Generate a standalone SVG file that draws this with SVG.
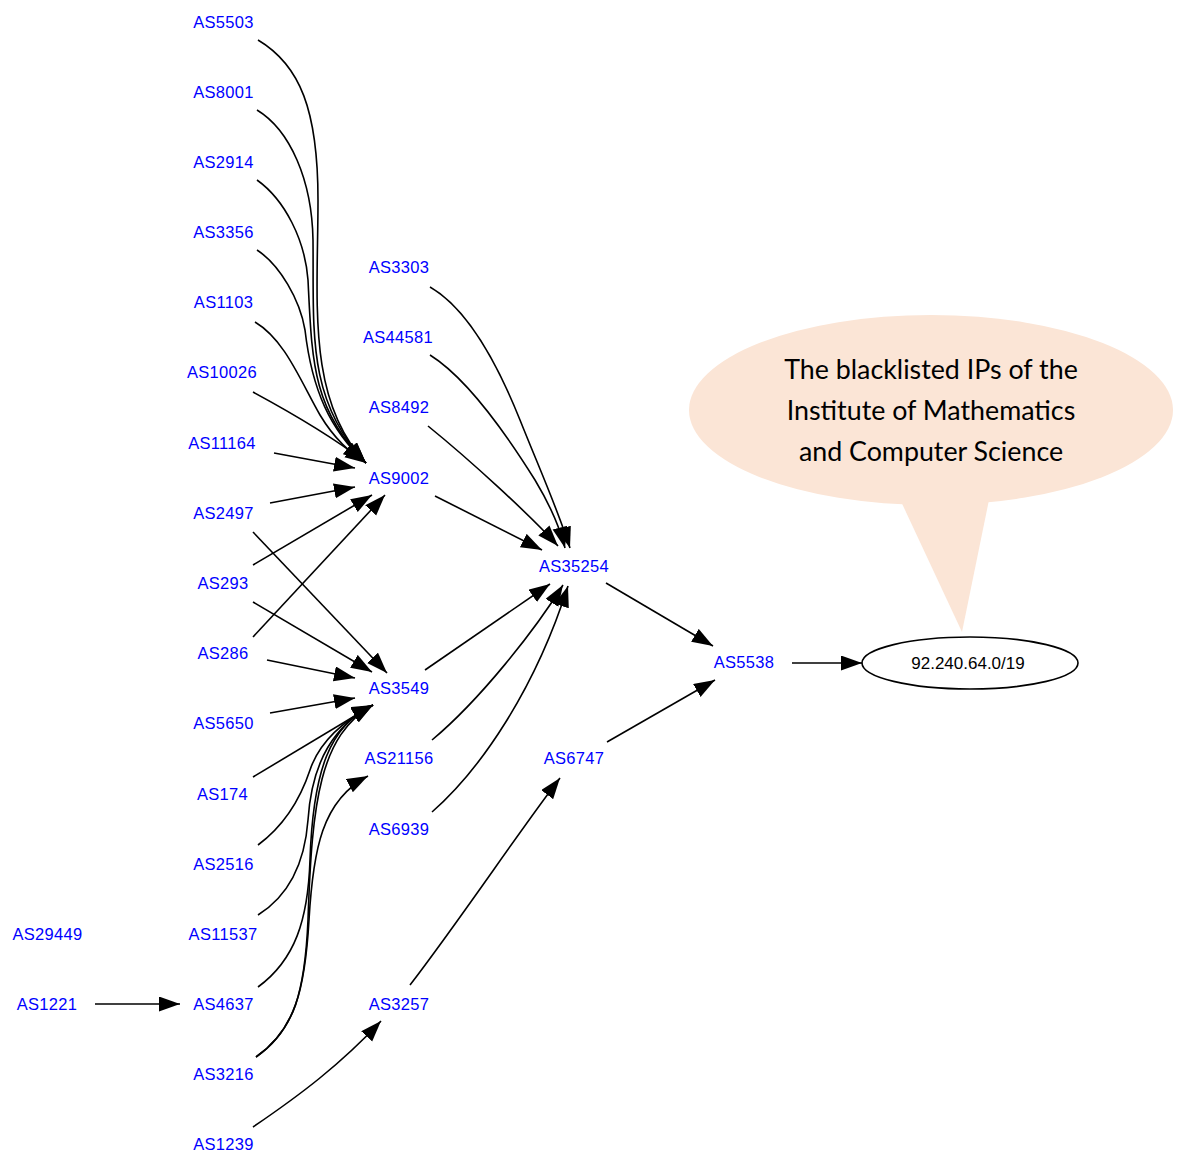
<svg xmlns="http://www.w3.org/2000/svg" width="1182" height="1155" viewBox="0 0 1182 1155">
  <defs>
    <style>
      .lbl { font-family: "Liberation Sans", Arial, sans-serif; font-size: 16.5px; fill: #0000ff; text-anchor: middle; letter-spacing: 0.3px; }
      .pfx { font-family: "Liberation Sans", Arial, sans-serif; font-size: 17px; fill: #000000; text-anchor: middle; }
      .edge { fill: none; stroke: #000000; stroke-width: 1.6; marker-end: url(#arrow); }
      .note { font-family: Lato, "Open Sans", sans-serif; font-size: 26.8px; fill: #000000; text-anchor: middle; }
    </style>
    <marker id="arrow" markerUnits="userSpaceOnUse" markerWidth="24" markerHeight="16" refX="21" refY="7.5" orient="auto">
      <path d="M0,0 L21,7.5 L0,15 z" fill="#000000"/>
    </marker>
  </defs>
  <rect width="1182" height="1155" fill="#ffffff"/>

  <!-- callout bubble -->
  <g id="callout">
    <ellipse cx="931" cy="410" rx="242" ry="95" fill="#fbe5d6"/>
    <polygon points="898,495 990,495 962,632" fill="#fbe5d6"/>
    <text class="note" x="931" y="379">The blacklisted IPs of the</text>
    <text class="note" x="931" y="420">Institute of Mathematics</text>
    <text class="note" x="931" y="461">and Computer Science</text>
  </g>

  <!-- connectors -->
  <g id="edges">
    <!-- into AS9002 -->
    <path class="edge" d="M258,40 C300,65 318,110 318,200 C318,300 306,400 366,463"/>
    <path class="edge" d="M257,110 C290,130 312,180 313,240 C314,330 306,400 366,463"/>
    <path class="edge" d="M257,180 C285,200 305,240 308,280 C312,360 312,410 366,463"/>
    <path class="edge" d="M257,250 C280,265 300,300 305,330 C312,390 330,430 366,463"/>
    <path class="edge" d="M255,322 C285,340 300,380 320,415 C335,440 350,452 366,463"/>
    <path class="edge" d="M253,392 C290,412 330,435 364,461"/>
    <path class="edge" d="M274,453 L355,468"/>
    <path class="edge" d="M270,503 L355,487"/>
    <path class="edge" d="M253,565 L372,495"/>
    <path class="edge" d="M253,637 L385,495"/>
    <!-- into AS3549 -->
    <path class="edge" d="M253,532 L387,673"/>
    <path class="edge" d="M253,602 L372,672"/>
    <path class="edge" d="M267,660 L355,678"/>
    <path class="edge" d="M270,713 L355,698"/>
    <path class="edge" d="M253,777 L373,705"/>
    <path class="edge" d="M258,845 C285,825 300,800 310,770 C320,740 345,720 373,705"/>
    <path class="edge" d="M258,915 C290,895 305,860 308,820 C312,760 335,725 373,705"/>
    <path class="edge" d="M258,987 C295,960 308,920 310,860 C313,770 330,725 373,705"/>
    <path class="edge" d="M256,1057 C295,1030 305,990 308,920 C312,800 320,735 373,705"/>
    <!-- into AS21156 -->
    <path class="edge" d="M256,1057 C295,1030 305,990 309,920 C313,850 322,800 368,776"/>
    <!-- into AS4637 -->
    <path class="edge" d="M95,1004 L180,1004"/>
    <!-- into AS35254 -->
    <path class="edge" d="M430,287 C470,310 500,370 520,420 C540,470 558,510 570,548"/>
    <path class="edge" d="M430,355 C470,380 510,440 535,480 C550,505 560,528 565,548"/>
    <path class="edge" d="M428,426 C470,460 530,515 558,546"/>
    <path class="edge" d="M435,496 L542,550"/>
    <path class="edge" d="M425,670 L550,584"/>
    <path class="edge" d="M432,740 C480,700 535,630 563,585"/>
    <path class="edge" d="M432,812 C480,770 535,690 568,586"/>
    <!-- into AS3257, AS6747, AS5538 and the prefix -->
    <path class="edge" d="M253,1127 C300,1095 340,1065 381,1021"/>
    <path class="edge" d="M410,985 C460,920 520,830 560,778"/>
    <path class="edge" d="M606,583 L713,646"/>
    <path class="edge" d="M607,742 L715,680"/>
    <path class="edge" d="M792,663 L862,663"/>
  </g>

  <!-- AS nodes (left column) -->
  <g id="AS5503"><text class="lbl" x="223.5" y="27.5">AS5503</text></g>
  <g id="AS8001"><text class="lbl" x="223.5" y="97.7">AS8001</text></g>
  <g id="AS2914"><text class="lbl" x="223.5" y="167.9">AS2914</text></g>
  <g id="AS3356"><text class="lbl" x="223.5" y="238">AS3356</text></g>
  <g id="AS1103"><text class="lbl" x="223.5" y="308.2">AS1103</text></g>
  <g id="AS10026"><text class="lbl" x="222" y="378.4">AS10026</text></g>
  <g id="AS11164"><text class="lbl" x="222" y="448.6">AS11164</text></g>
  <g id="AS2497"><text class="lbl" x="223.5" y="518.8">AS2497</text></g>
  <g id="AS293"><text class="lbl" x="223" y="589">AS293</text></g>
  <g id="AS286"><text class="lbl" x="223" y="659.1">AS286</text></g>
  <g id="AS5650"><text class="lbl" x="223.5" y="729.3">AS5650</text></g>
  <g id="AS174"><text class="lbl" x="222.5" y="799.5">AS174</text></g>
  <g id="AS2516"><text class="lbl" x="223.5" y="869.7">AS2516</text></g>
  <g id="AS11537"><text class="lbl" x="223" y="939.9">AS11537</text></g>
  <g id="AS4637"><text class="lbl" x="223.5" y="1010">AS4637</text></g>
  <g id="AS3216"><text class="lbl" x="223.5" y="1080.2">AS3216</text></g>
  <g id="AS1239"><text class="lbl" x="223.5" y="1150.4">AS1239</text></g>

  <!-- far left -->
  <g id="AS29449"><text class="lbl" x="47.5" y="939.9">AS29449</text></g>
  <g id="AS1221"><text class="lbl" x="47" y="1010">AS1221</text></g>

  <!-- middle column -->
  <g id="AS3303"><text class="lbl" x="399" y="272.5">AS3303</text></g>
  <g id="AS44581"><text class="lbl" x="398" y="343">AS44581</text></g>
  <g id="AS8492"><text class="lbl" x="399" y="413">AS8492</text></g>
  <g id="AS9002"><text class="lbl" x="399" y="483.5">AS9002</text></g>
  <g id="AS3549"><text class="lbl" x="399" y="694">AS3549</text></g>
  <g id="AS21156"><text class="lbl" x="399" y="764.4">AS21156</text></g>
  <g id="AS6939"><text class="lbl" x="399" y="834.6">AS6939</text></g>
  <g id="AS3257"><text class="lbl" x="399" y="1010">AS3257</text></g>

  <!-- right side -->
  <g id="AS35254"><text class="lbl" x="574" y="571.5">AS35254</text></g>
  <g id="AS6747"><text class="lbl" x="574" y="764">AS6747</text></g>
  <g id="AS5538"><text class="lbl" x="744" y="668">AS5538</text></g>

  <g id="prefix">
    <ellipse cx="970" cy="663" rx="108" ry="26" fill="#ffffff" stroke="#000000" stroke-width="1.6"/>
    <text class="pfx" x="968" y="669">92.240.64.0/19</text>
  </g>
</svg>
